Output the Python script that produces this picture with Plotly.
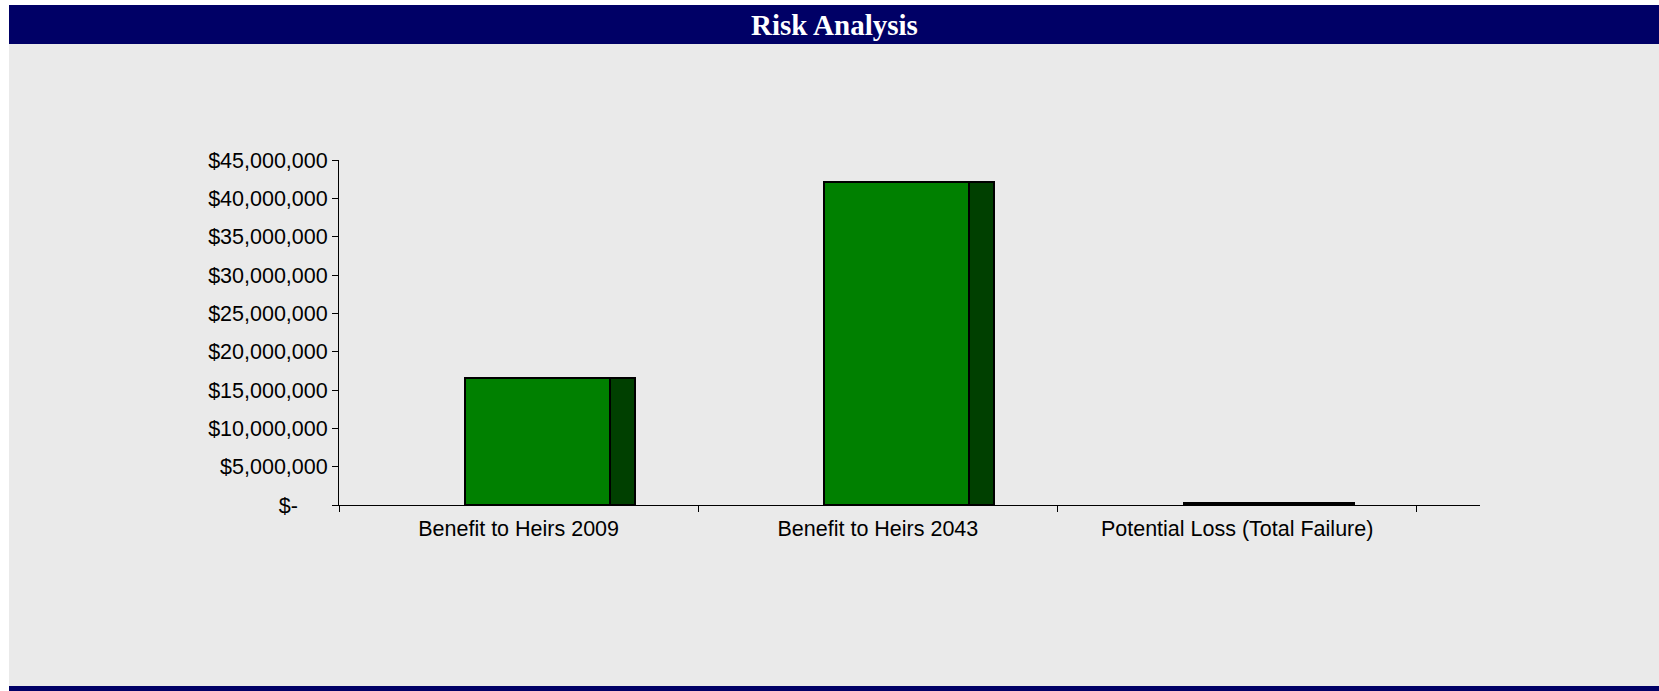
import plotly.graph_objects as go

# Chart data
categories = ["Benefit to Heirs 2009", "Benefit to Heirs 2043", "Potential Loss (Total Failure)"]
values = [16600000, 42100000, 250000]
y_tick_values = [0, 5000000, 10000000, 15000000, 20000000, 25000000,
                 30000000, 35000000, 40000000, 45000000]
y_tick_labels = ["$-\u00a0\u00a0\u00a0\u00a0\u00a0", "$5,000,000", "$10,000,000", "$15,000,000",
                 "$20,000,000", "$25,000,000", "$30,000,000", "$35,000,000",
                 "$40,000,000", "$45,000,000"]
title_text = "Risk Analysis"

# Page and plot-area geometry (pixels)
W, H = 1659, 691
PL, PR, PT, PB = 339, 1480, 160, 505

NAVY = "#000066"
PANEL = "#EAEAEA"
FRONT = "#008000"
SIDE = "#004000"


def px_x(px):
    return (px - PL) / (PR - PL)


def px_y(py):
    return (PB - py) / (PB - PT)


fig = go.Figure()

# Front face of each column
fig.add_trace(go.Bar(
    x=categories, y=values,
    offset=-0.1493, width=0.4036,
    marker=dict(color=FRONT, line=dict(color="#000000", width=2)),
    hoverinfo="x+y", showlegend=False,
))
# Shaded side face giving the columns depth
fig.add_trace(go.Bar(
    x=categories, y=values,
    offset=0.2543, width=0.0696,
    marker=dict(color=SIDE, line=dict(color="#000000", width=2)),
    hoverinfo="skip", showlegend=False,
))

shapes = [
    # grey panel
    dict(type="rect", xref="paper", yref="paper", layer="below",
         x0=px_x(9), x1=px_x(W), y0=px_y(H), y1=px_y(5),
         fillcolor=PANEL, line=dict(width=0)),
    # header band
    dict(type="rect", xref="paper", yref="paper", layer="below",
         x0=px_x(9), x1=px_x(W), y0=px_y(44), y1=px_y(5),
         fillcolor=NAVY, line=dict(width=0)),
    # footer band
    dict(type="rect", xref="paper", yref="paper", layer="below",
         x0=px_x(9), x1=px_x(W), y0=px_y(H), y1=px_y(686),
         fillcolor=NAVY, line=dict(width=0)),
]

fig.update_layout(
    width=W, height=H,
    margin=dict(l=PL, r=W - PR, t=PT, b=H - PB, pad=0),
    paper_bgcolor="#FFFFFF",
    plot_bgcolor="rgba(0,0,0,0)",
    barmode="overlay",
    bargap=0,
    shapes=shapes,
    font=dict(family="Liberation Sans, Arial, sans-serif", size=21, color="#000000"),
    annotations=[dict(
        text="<b>" + title_text + "</b>", xref="paper", yref="paper",
        x=px_x(834), y=px_y(25), xanchor="center", yanchor="middle",
        showarrow=False,
        font=dict(family="Liberation Serif, Times New Roman, serif", size=29, color="#FFFFFF"),
    )],
    xaxis=dict(
        type="category",
        range=[-0.5, 2.676],
        showline=True, linecolor="#000000", linewidth=1,
        ticks="outside", ticklen=6, tickcolor="#000000", tickwidth=1,
        tickson="boundaries",
        ticklabelstandoff=4,
        showgrid=False, zeroline=False,
        tickfont=dict(size=21.5),
        fixedrange=True,
    ),
    yaxis=dict(
        range=[0, 45000000],
        tickmode="array", tickvals=y_tick_values, ticktext=y_tick_labels,
        showline=True, linecolor="#000000", linewidth=1,
        ticks="outside", ticklen=6, tickcolor="#000000", tickwidth=1,
        showgrid=False, zeroline=False,
        tickfont=dict(size=21.5),
        fixedrange=True,
    ),
)

fig.write_html("out.html")
